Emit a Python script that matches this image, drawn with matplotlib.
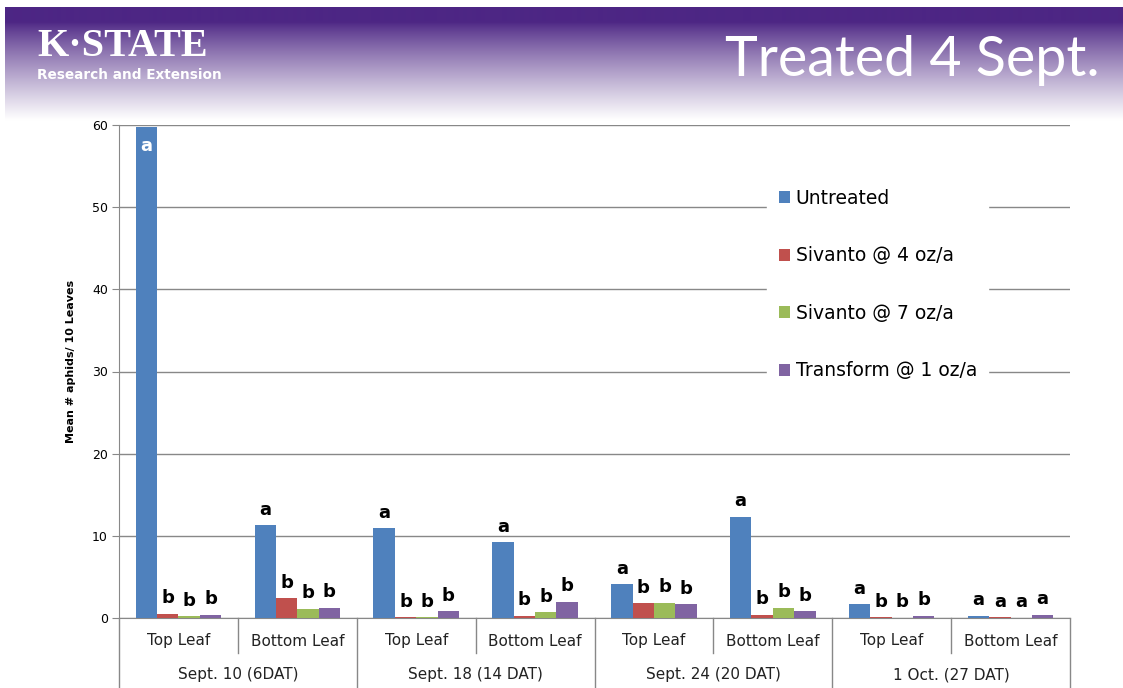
import numpy as np
import matplotlib.pyplot as plt
from matplotlib.colors import to_rgb

leaves = ['Top Leaf', 'Bottom Leaf'] * 4
dates = ['Sept. 10 (6DAT)', 'Sept. 18 (14 DAT)', 'Sept. 24 (20 DAT)', '1 Oct. (27 DAT)']
series = ['Untreated', 'Sivanto @ 4 oz/a', 'Sivanto @ 7 oz/a', 'Transform @ 1 oz/a']
colors = ['#4F81BD', '#C0504D', '#9BBB59', '#8064A2']

untreated = [59.7, 11.3, 10.9, 9.2, 4.1, 12.3, 1.65, 0.25]
sivanto4 = [0.5, 2.4, 0.1, 0.3, 1.8, 0.4, 0.1, 0.1]
sivanto7 = [0.2, 1.1, 0.1, 0.7, 1.85, 1.25, 0.05, 0.05]
transform = [0.4, 1.25, 0.8, 1.95, 1.65, 0.8, 0.25, 0.4]
letters = [['a', 'b', 'b', 'b'], ['a', 'b', 'b', 'b'], ['a', 'b', 'b', 'b'], ['a', 'b', 'b', 'b'],
           ['a', 'b', 'b', 'b'], ['a', 'b', 'b', 'b'], ['a', 'b', 'b', 'b'], ['a', 'a', 'a', 'a']]

values = [untreated, sivanto4, sivanto7, transform]

W, H = 1123, 688
fig = plt.figure(figsize=(W / 100, H / 100), dpi=100)

# header gradient band
hdr = fig.add_axes([5 / W, 1 - 122 / H, 1 - 5 / W, 115 / H])
rows = np.linspace(7, 122, 230)
t = np.clip((rows - 22) / 98, 0, 1) ** 0.85
top = np.array(to_rgb('#4D2684'))
white = np.array([1.0, 1.0, 1.0])
grad = top[None, :] * (1 - t[:, None]) + white[None, :] * t[:, None]
hdr.imshow(grad[:, None, :], aspect='auto', extent=[0, 1, 1, 0])
hdr.set_xlim(0, 1)
hdr.set_ylim(1, 0)
hdr.axis('off')

fig.text(37 / W, 1 - 56 / H, 'K\u00b7STATE', family='Liberation Serif', weight='bold',
         color='white', fontsize=29, va='baseline', ha='left')
fig.text(37 / W, 1 - 79 / H, 'Research and Extension', family='DejaVu Sans',
         weight='bold', color='white', fontsize=9.8, va='baseline', ha='left')
fig.text(1100 / W, 1 - 76 / H, 'Treated 4 Sept.', family='Lato', color='white',
         fontsize=40, va='baseline', ha='right')

ax = fig.add_axes([119 / W, 1 - 618 / H, 951 / W, 493 / H])
x = np.arange(len(leaves))
bw = 0.18
for k, (name, vals, c) in enumerate(zip(series, values, colors)):
    xs = x + (k - 1.5) * bw
    ax.bar(xs, vals, bw, color=c, label=name, zorder=3)
    for i, v in enumerate(vals):
        lab = letters[i][k]
        if v + 3 > 60:
            ax.text(xs[i], v - 1.2, lab, ha='center', va='top', color='white',
                    fontsize=13, weight='bold', zorder=4)
        else:
            ax.text(xs[i], v + 0.8, lab, ha='center', va='bottom', color='black',
                    fontsize=13, weight='bold', zorder=4)

ax.set_xlim(-0.5, 7.5)
ax.set_ylim(0, 60)
ax.set_yticks(np.arange(0, 61, 10))
ax.tick_params(axis='y', labelsize=9, length=5, color='#888888', pad=3)
ax.set_xticks([])
ax.yaxis.grid(True, color='#888888', linewidth=1, zorder=0)
ax.set_axisbelow(True)
for s in ['top', 'right']:
    ax.spines[s].set_visible(False)
ax.spines['left'].set_color('#888888')
ax.spines['bottom'].set_color('#888888')
ax.set_ylabel('Mean # aphids/ 10 Leaves', fontsize=8, weight='bold')
ax.yaxis.set_label_coords(-0.045, 0.52)

# category table under the axis
tr = ax.get_xaxis_transform()
ax_h = 493
for b in np.arange(-0.5, 8, 1):
    idx = int(b + 0.5)
    if idx % 2 == 0:
        y1 = -(H - 618) / ax_h
    else:
        y1 = -(653 - 618) / ax_h
    ax.plot([b, b], [0, y1], transform=tr, color='#888888', lw=1, clip_on=False)
for i, lab in enumerate(leaves):
    ax.text(i, -(641 - 618) / ax_h, lab, transform=tr, ha='center', va='center',
            fontsize=11, color='#222222')
for j, lab in enumerate(dates):
    ax.text(2 * j + 0.5, -(675 - 618) / ax_h, lab, transform=tr, ha='center', va='center',
            fontsize=11, color='#222222')

leg = ax.legend(loc='upper left', bbox_to_anchor=(0.672, 0.912), frameon=True, fancybox=False,
                edgecolor='white', framealpha=1, fontsize=13.5, handlelength=0.6, handleheight=0.6,
                handletextpad=0.3, labelspacing=2.05, borderpad=0.6)
leg.set_zorder(5)

fig.savefig('out.png', dpi=100)
